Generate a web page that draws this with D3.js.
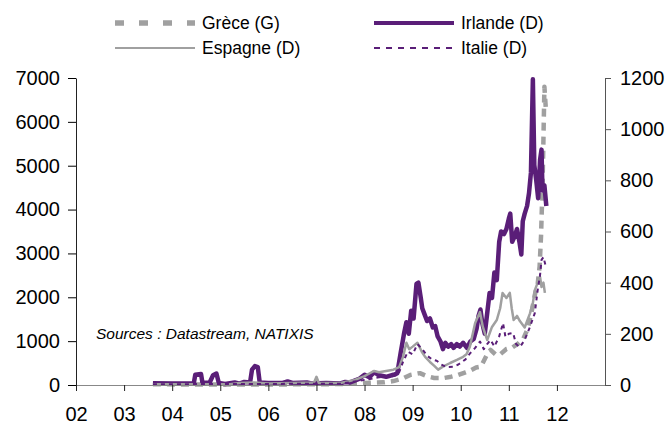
<!DOCTYPE html>
<html>
<head>
<meta charset="utf-8">
<script src="https://cdn.jsdelivr.net/npm/d3@7"></script>
<style>
  body { margin: 0; background: #fff; }
  svg text { font-family: "Liberation Sans", Arial, sans-serif; }
</style>
</head>
<body>
<svg id="chart" width="670" height="425"></svg>
<script>
// Years on the x axis (decimal years), labels shown as two digits
const yearTicks = [2002, 2003, 2004, 2005, 2006, 2007, 2008, 2009, 2010, 2011, 2012];
const yearLabels = ['02', '03', '04', '05', '06', '07', '08', '09', '10', '11', '12'];
const leftTicks = [0, 1000, 2000, 3000, 4000, 5000, 6000, 7000];
const rightTicks = [0, 200, 400, 600, 800, 1000, 1200];

// Grèce (left axis) - [year, value]
const greece = [
  [2003.6, 15], [2005.0, 12], [2007.0, 15], [2007.6, 25], [2008.0, 45], [2008.4, 60],
  [2008.6, 90], [2008.8, 150], [2008.95, 230], [2009.15, 270], [2009.3, 200], [2009.45, 160],
  [2009.65, 160], [2009.8, 190], [2009.95, 230], [2010.1, 290], [2010.2, 330], [2010.32, 400],
  [2010.42, 420], [2010.55, 700], [2010.62, 800], [2010.72, 700], [2010.8, 680], [2010.95, 820],
  [2011.08, 860], [2011.2, 950], [2011.3, 1050], [2011.4, 1300], [2011.48, 1700], [2011.55, 2100],
  [2011.6, 2300], [2011.64, 2700], [2011.67, 3400], [2011.7, 4500], [2011.72, 5600],
  [2011.74, 6800], [2011.77, 6300]
];

// Irlande (right axis)
const ireland = [
  [2003.6, 7], [2004.0, 6], [2004.45, 7], [2004.48, 40], [2004.6, 43], [2004.63, 8],
  [2004.78, 10], [2004.85, 38], [2004.92, 45], [2004.97, 8], [2005.1, 4], [2005.3, 10],
  [2005.4, 5], [2005.5, 12], [2005.62, 10], [2005.66, 60], [2005.72, 74], [2005.78, 70],
  [2005.82, 10], [2006.0, 8], [2006.3, 8], [2006.4, 14], [2006.5, 8], [2006.8, 10],
  [2006.9, 6], [2007.2, 8], [2007.5, 6], [2007.6, 12], [2007.7, 10], [2007.9, 25],
  [2008.0, 40], [2008.1, 30], [2008.2, 50], [2008.3, 38], [2008.45, 32], [2008.6, 40],
  [2008.68, 45], [2008.75, 125], [2008.82, 200], [2008.87, 245], [2008.92, 200], [2008.97, 290],
  [2009.02, 260], [2009.08, 395], [2009.12, 400], [2009.17, 340], [2009.2, 300], [2009.24, 280],
  [2009.3, 250], [2009.36, 260], [2009.42, 225], [2009.47, 230], [2009.52, 190], [2009.58, 170],
  [2009.63, 140], [2009.68, 165], [2009.74, 150], [2009.8, 160], [2009.85, 145], [2009.92, 160],
  [2009.98, 150], [2010.05, 165], [2010.13, 145], [2010.2, 170], [2010.27, 180], [2010.33, 220],
  [2010.37, 270], [2010.41, 295], [2010.45, 240], [2010.5, 200], [2010.55, 280], [2010.6, 360],
  [2010.65, 340], [2010.7, 440], [2010.75, 410], [2010.8, 560], [2010.84, 600], [2010.9, 590],
  [2010.95, 610], [2011.0, 650], [2011.03, 670], [2011.07, 560], [2011.12, 580], [2011.17, 610],
  [2011.22, 560], [2011.26, 510], [2011.29, 640], [2011.33, 670], [2011.38, 700], [2011.42, 750],
  [2011.46, 830], [2011.5, 1195], [2011.53, 860], [2011.57, 800], [2011.61, 730], [2011.65, 880],
  [2011.68, 920], [2011.7, 760], [2011.74, 780], [2011.78, 700]
];

// Espagne (right axis)
const spain = [
  [2003.6, 3], [2005.2, 3], [2005.4, 8], [2005.7, 10], [2006.0, 6], [2006.5, 8],
  [2006.95, 10], [2007.0, 32], [2007.05, 8], [2007.5, 8], [2007.8, 20], [2008.0, 35],
  [2008.1, 45], [2008.2, 55], [2008.3, 50], [2008.45, 55], [2008.6, 60], [2008.72, 70],
  [2008.8, 110], [2008.87, 165], [2008.93, 140], [2009.0, 150], [2009.1, 165], [2009.19, 130],
  [2009.26, 110], [2009.36, 90], [2009.45, 75], [2009.53, 60], [2009.63, 72], [2009.78, 86],
  [2009.92, 98], [2010.05, 110], [2010.12, 120], [2010.19, 150], [2010.25, 200], [2010.3, 242],
  [2010.4, 285], [2010.46, 227], [2010.55, 176], [2010.65, 227], [2010.75, 254], [2010.82, 300],
  [2010.87, 360], [2010.95, 340], [2011.02, 360], [2011.06, 300], [2011.1, 254], [2011.17, 270],
  [2011.23, 250], [2011.33, 225], [2011.44, 280], [2011.5, 320], [2011.54, 370], [2011.6, 400],
  [2011.65, 422], [2011.68, 383], [2011.72, 400], [2011.75, 360]
];

// Italie (right axis)
const italy = [
  [2003.6, 3], [2007.5, 5], [2008.0, 20], [2008.3, 30], [2008.6, 35], [2008.7, 40],
  [2008.8, 90], [2008.9, 130], [2009.0, 120], [2009.1, 160], [2009.2, 140], [2009.3, 115],
  [2009.4, 100], [2009.5, 95], [2009.6, 80], [2009.7, 70], [2009.85, 72], [2009.95, 80],
  [2010.1, 100], [2010.2, 125], [2010.3, 145], [2010.4, 170], [2010.48, 140], [2010.55, 160],
  [2010.62, 176], [2010.7, 150], [2010.8, 190], [2010.88, 242], [2010.93, 188], [2011.0, 200],
  [2011.09, 203], [2011.15, 160], [2011.23, 148], [2011.33, 176], [2011.44, 227], [2011.54, 281],
  [2011.6, 371], [2011.65, 430], [2011.68, 489], [2011.72, 500], [2011.76, 470]
];

const purple = '#5a1e78';
const grey = '#a0a0a0';

const svg = d3.select('#chart');
const margin = { left: 76, right: 65, top: 78, bottom: 40 };
const width = 670 - margin.left - margin.right;
const height = 425 - margin.top - margin.bottom;

const x = d3.scaleLinear().domain([2002, 2013]).range([margin.left, margin.left + width]);
const yL = d3.scaleLinear().domain([0, 7000]).range([margin.top + height, margin.top]);
const yR = d3.scaleLinear().domain([0, 1200]).range([margin.top + height, margin.top]);

// Series (Excel order: primary axis first)
const series = [
  { name: 'Grèce (G)', data: greece, y: yL, color: grey, width: 4.5, dash: '8,6', legendDash: '9,15', legendWidth: 5.5 },
  { name: 'Irlande (D)', data: ireland, y: yR, color: purple, width: 4.5, dash: null, legendDash: null, legendWidth: 4 },
  { name: 'Espagne (D)', data: spain, y: yR, color: grey, width: 2.5, dash: null, legendDash: null, legendWidth: 2 },
  { name: 'Italie (D)', data: italy, y: yR, color: purple, width: 2, dash: '4,4', legendDash: '6,6', legendWidth: 2 }
];

series.forEach(s => {
  const line = d3.line().x(d => x(d[0])).y(d => s.y(d[1]));
  svg.append('path')
    .datum(s.data)
    .attr('fill', 'none')
    .attr('stroke', s.color)
    .attr('stroke-width', s.width)
    .attr('stroke-dasharray', s.dash)
    .attr('stroke-linejoin', 'round')
    .attr('d', line);
});

// Axes
const xAxis = svg.append('g')
  .attr('transform', `translate(0,${margin.top + height})`)
  .call(d3.axisBottom(x).tickValues(yearTicks).tickSize(6).tickPadding(16).tickSizeOuter(0)
    .tickFormat((d, i) => yearLabels[i]));
xAxis.select('.domain').attr('stroke', '#888').attr('stroke-width', 1.2);
xAxis.selectAll('.tick line').attr('stroke', '#222');

const leftAxis = svg.append('g')
  .attr('transform', `translate(${margin.left},0)`)
  .call(d3.axisLeft(yL).tickValues(leftTicks).tickSize(8).tickPadding(8).tickSizeOuter(0)
    .tickFormat(d3.format('d')));
leftAxis.select('.domain').attr('stroke', '#222');

const rightAxis = svg.append('g')
  .attr('transform', `translate(${margin.left + width},0)`)
  .call(d3.axisRight(yR).tickValues(rightTicks).tickSize(6).tickPadding(9).tickSizeOuter(0)
    .tickFormat(d3.format('d')));
rightAxis.select('.domain').attr('stroke', '#555');
rightAxis.selectAll('.tick line').attr('stroke', '#555');

svg.selectAll('.tick text')
  .attr('font-family', '"Liberation Sans", Arial, sans-serif')
  .attr('font-size', 20)
  .attr('fill', '#000');

// Legend
const legendItems = [
  { s: series[0], lx: 115, ly: 23 },
  { s: series[1], lx: 374, ly: 23 },
  { s: series[2], lx: 115, ly: 48 },
  { s: series[3], lx: 374, ly: 48 }
];
legendItems.forEach(item => {
  const g = svg.append('g').attr('transform', `translate(${item.lx},${item.ly})`);
  g.append('line')
    .attr('x1', 0).attr('x2', 80)
    .attr('stroke', item.s.color)
    .attr('stroke-width', item.s.legendWidth)
    .attr('stroke-dasharray', item.s.legendDash);
  g.append('text')
    .attr('x', 87)
    .attr('dy', '0.35em')
    .attr('font-size', 17.5)
    .text(item.s.name);
});

// Source
svg.append('text')
  .attr('x', 96).attr('y', 339)
  .attr('font-size', 15.5)
  .attr('font-style', 'italic')
  .text('Sources : Datastream, NATIXIS');
</script>
</body>
</html>
